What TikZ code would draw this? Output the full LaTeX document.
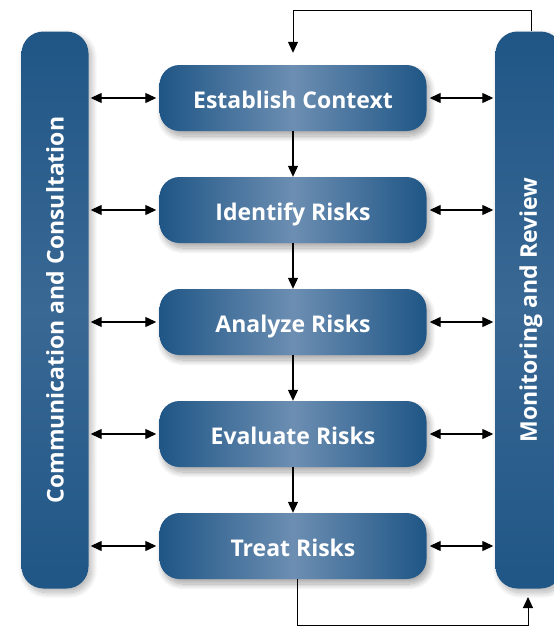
\documentclass[tikz,border=0pt]{standalone}
\usepackage{fontspec}
\setmainfont{Open Sans}
\usetikzlibrary{arrows.meta,shadows.blur}
\definecolor{bdark}{HTML}{1F5686}
\definecolor{blight}{HTML}{6C8EB2}
\definecolor{bmid}{HTML}{3A6894}
\tikzset{
  stepbox/.style={rounded corners=20pt, minimum width=267pt, minimum height=66pt,
    text height=22pt, text depth=2pt,
    left color=bdark, right color=bdark, middle color=blight,
    text=white, font=\bfseries\fontsize{23}{26}\selectfont,
    blur shadow={shadow xshift=3pt, shadow yshift=-5pt, shadow blur steps=12, shadow blur radius=6pt, shadow opacity=35}},
  sidebar/.style={rounded corners=22pt, minimum width=67pt, minimum height=557pt,
    top color=bdark, bottom color=bdark, middle color=bmid,
    blur shadow={shadow xshift=3pt, shadow yshift=-4pt, shadow blur steps=12, shadow blur radius=6pt, shadow opacity=30}},
  sidetext/.style={text=white, font=\bfseries\fontsize{23}{26}\selectfont, rotate=90},
  conn/.style={line width=1.2pt, -{Triangle[length=11pt,width=10pt]}},
  dconn/.style={line width=1.2pt, {Triangle[length=11pt,width=10pt]}-{Triangle[length=11pt,width=10pt]}},
  loop/.style={line width=1pt, -{Triangle[length=11pt,width=10pt]}}
}
\begin{document}
\begin{tikzpicture}[x=1pt,y=-1pt]
\useasboundingbox (0,0) rectangle (554,627);
\node[sidebar] (cc) at (55,310) {};
\node[sidetext] (cct) at (cc.center) {Communication and Consultation};
\node[sidebar] (mr) at (529,310) {};
\node[sidetext] (mrt) at (531,310) {Monitoring and Review};
\node[stepbox] (ec) at (293,98) {Establish Context};
\node[stepbox] (ir) at (293,210) {Identify Risks};
\node[stepbox] (ar) at (293,322) {Analyze Risks};
\node[stepbox] (er) at (293,434) {Evaluate Risks};
\node[stepbox] (tr) at (293,546) {Treat Risks};
\foreach \a/\b in {ec/ir, ir/ar, ar/er, er/tr}{
  \draw[conn] (\a.south) -- (\b.north);
}
\foreach \n in {ec, ir, ar, er, tr}{
  \draw[dconn] (\n.west -| cc.east) ++(2,0) -- ([xshift=-3pt]\n.west);
  \draw[dconn] ([xshift=3pt]\n.east) -- ([xshift=-2pt]\n.east -| mr.west);
}
\coordinate (t0) at (531,31);
\coordinate (t1) at (531,10);
\draw[loop, shorten >=12pt] (t0) -- (t1) -| (ec.north);
\coordinate (b1) at (297,625);
\coordinate (b2) at (528,588);
\draw[loop, shorten >=9pt] (tr.south -| b1) -- (b1) -| (b2);
\end{tikzpicture}
\end{document}
